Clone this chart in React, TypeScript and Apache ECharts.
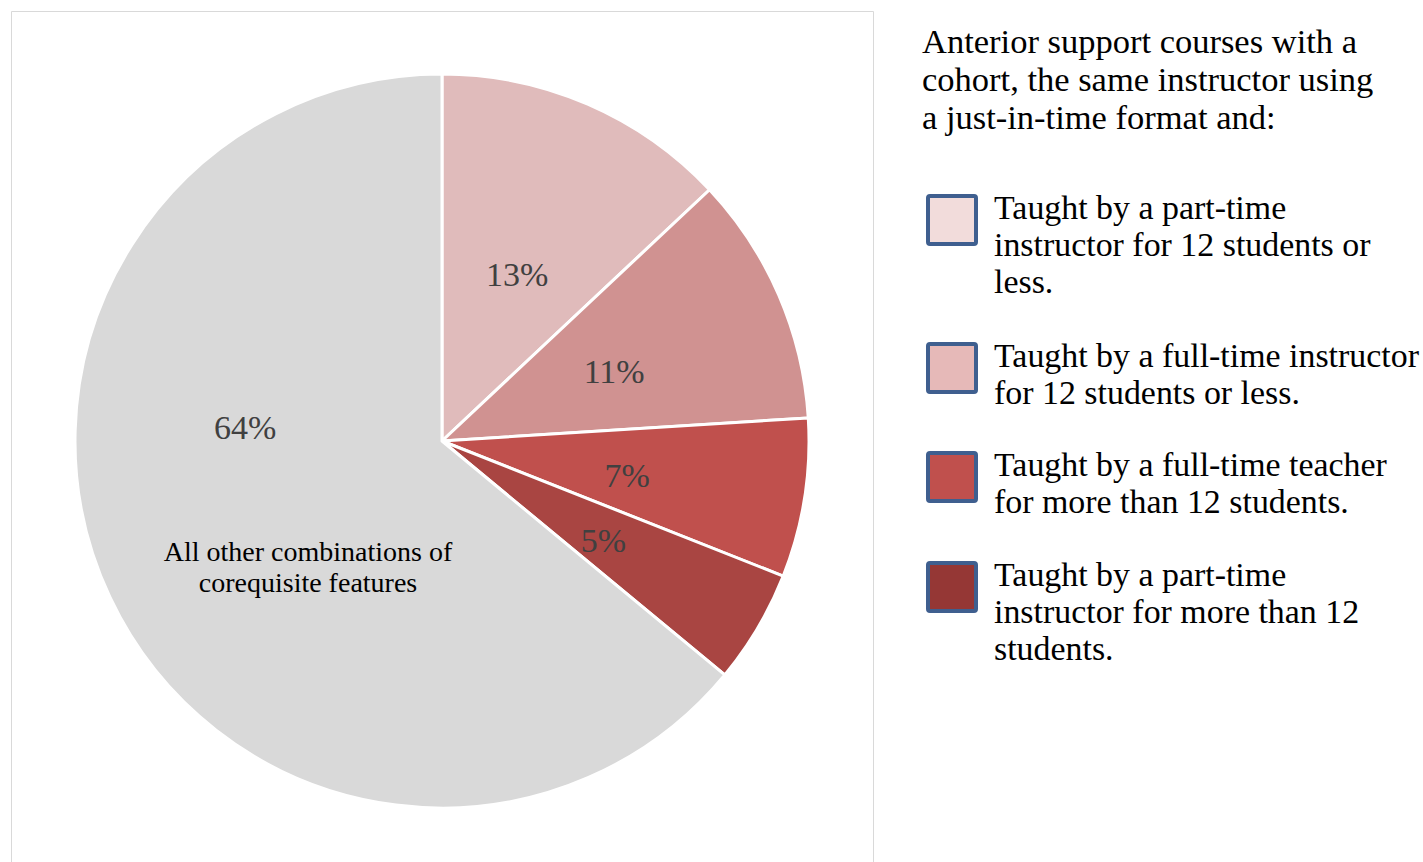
import React, { useEffect, useRef } from "react";
import * as echarts from "echarts";

const categories = [
  "Taught by a part-time instructor for 12 students or less.",
  "Taught by a full-time instructor for 12 students or less.",
  "Taught by a full-time teacher for more than 12 students.",
  "Taught by a part-time instructor for more than 12 students.",
  "All other combinations of corequisite features",
];
const values = [13, 11, 7, 5, 64];
const sliceColors = ["#E0BBBB", "#D09291", "#C0504D", "#A94542", "#D9D9D9"];
const legendColors = ["#F2DCDB", "#E6B9B8", "#C0504D", "#953735"];
const legendTitle = "Anterior support courses with a\ncohort, the same instructor using\na just-in-time format and:";
const legendLabels = [
  "Taught by a part-time\ninstructor for 12 students or\nless.",
  "Taught by a full-time instructor\nfor 12 students or less.",
  "Taught by a full-time teacher\nfor more than 12 students.",
  "Taught by a part-time\ninstructor for more than 12\nstudents.",
];
const otherNote = "All other combinations of\ncorequisite features";

const FONT = "'Liberation Serif', 'Times New Roman', serif";
const legendTops = [194, 342, 451, 561];

export default function App() {
  const ref = useRef<HTMLDivElement>(null);
  useEffect(() => {
    document.body.style.margin = "0";
    const chart = echarts.init(ref.current!, null, { renderer: "svg" });
    const legendGraphics: any[] = [];
    legendLabels.forEach((lbl, i) => {
      legendGraphics.push({
        type: "rect",
        shape: { x: 928, y: legendTops[i] + 2, width: 48, height: 48, r: 2 },
        style: { fill: legendColors[i], stroke: "#3F5F8F", lineWidth: 4 },
      });
      legendGraphics.push({
        type: "text",
        x: 994,
        y: legendTops[i] - 5,
        style: {
          text: lbl,
          font: `33.9px ${FONT}`,
          lineHeight: 37,
          fill: "#000",
          verticalAlign: "top",
          align: "left",
        },
      });
    });
    chart.setOption({
      animation: false,
      backgroundColor: "#fff",
      graphic: [
        {
          type: "rect",
          shape: { x: 11.5, y: 11.5, width: 862, height: 880 },
          style: { fill: "none", stroke: "#D9D9D9", lineWidth: 1 },
          z: 0,
        },
        {
          type: "text",
          x: 922,
          y: 22,
          style: {
            text: legendTitle,
            font: `34.5px ${FONT}`,
            lineHeight: 38,
            fill: "#000",
            verticalAlign: "top",
            align: "left",
          },
        },
        {
          type: "text",
          x: 308,
          y: 536,
          z: 100,
          style: {
            text: otherNote,
            font: `28px ${FONT}`,
            lineHeight: 31,
            fill: "#000",
            verticalAlign: "top",
            align: "center",
          },
        },
        ...legendGraphics,
      ],
      series: [
        {
          type: "pie",
          center: [442, 441],
          radius: 367,
          startAngle: 90,
          clockwise: true,
          avoidLabelOverlap: false,
          label: {
            show: true,
            position: "inside",
            formatter: "{c}%",
            fontFamily: FONT,
            fontSize: 34,
            color: "#404040",
            offset: [1, 5],
          },
          labelLine: { show: false },
          itemStyle: { borderColor: "#fff", borderWidth: 3 },
          emphasis: { disabled: true },
          data: categories.map((name, i) => ({
            name,
            value: values[i],
            itemStyle: { color: sliceColors[i] },
            label: i === 4 ? { offset: [-28, -93] } : undefined,
          })),
        },
      ],
    });
    return () => chart.dispose();
  }, []);
  return <div ref={ref} style={{ width: 1423, height: 862 }} />;
}
